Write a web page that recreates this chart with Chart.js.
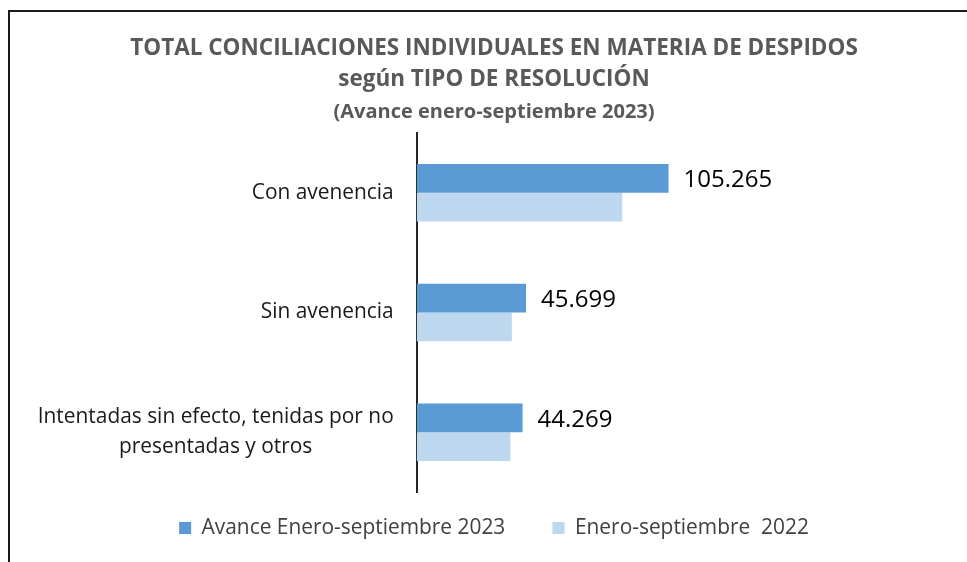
<!DOCTYPE html>
<html>
<head>
<meta charset="utf-8">
<script src="https://cdn.jsdelivr.net/npm/chart.js@4.4.0/dist/chart.umd.min.js"></script>
<style>
  html, body { margin: 0; padding: 0; background: #fff; }
  .frame { position: absolute; left: 8px; top: 10px; width: 1000px; height: 600px; border: 2px solid #1a1a1a; }
  #chart { position: absolute; left: 0; top: 0; }
</style>
</head>
<body>
<div class="frame"></div>
<canvas id="chart" width="967" height="562"></canvas>
<script>
// data
const categories = ['Con avenencia', 'Sin avenencia', ['Intentadas sin efecto, tenidas por no', 'presentadas y otros']];
const seriesNames = ['Avance Enero-septiembre 2023', 'Enero-septiembre  2022'];
const values2023 = [105265, 45699, 44269];
const values2022 = [85900, 39750, 39160];
const xMax = 230000;

const NBSP = '\u00a0';

function fmt(n) {
    return String(n).replace(/\B(?=(\d{3})+(?!\d))/g, '.');
}

// value labels next to the 2023 bars
const valueLabels = {
    id: 'valueLabels',
    afterDatasetsDraw(chart) {
        const ctx = chart.ctx;
        const meta = chart.getDatasetMeta(0);
        ctx.save();
        ctx.font = '24px "Open Sans"';
        ctx.fillStyle = '#000';
        ctx.textAlign = 'left';
        ctx.textBaseline = 'middle';
        meta.data.forEach((bar, i) => {
            ctx.fillText(fmt(values2023[i]), bar.x + 15, bar.y + 2);
        });
        ctx.restore();
    }
};

new Chart(document.getElementById('chart'), {
    type: 'bar',
    data: {
        labels: categories,
        datasets: [
            { label: seriesNames[0], data: values2023, backgroundColor: '#5B9BD5' },
            { label: seriesNames[1], data: values2022, backgroundColor: '#BDD7EE' }
        ]
    },
    options: {
        indexAxis: 'y',
        responsive: false,
        animation: false,
        categoryPercentage: 0.48,
        barPercentage: 1.0,
        layout: { padding: { left: 21, right: 0, top: 0, bottom: 13.6 } },
        scales: {
            x: { display: false, min: 0, max: xMax },
            y: {
                grid: { display: false, drawTicks: false },
                border: { display: true, color: '#262626', width: 2 },
                ticks: {
                    padding: 23,
                    color: '#1a1a1a',
                    font: { family: 'Open Sans', size: 20.9, lineHeight: 1.43 },
                    callback: function (value) {
                        const lbl = this.getLabelForValue(value);
                        if (Array.isArray(lbl)) {
                            return [lbl[0], lbl[1] + NBSP.repeat(15)];
                        }
                        return lbl;
                    }
                },
                afterFit: (scale) => { scale.width = 395.7; }
            }
        },
        plugins: {
            title: {
                display: true,
                text: ['TOTAL CONCILIACIONES INDIVIDUALES EN MATERIA DE DESPIDOS', 'según TIPO DE RESOLUCIÓN'],
                color: '#595959',
                font: { family: 'Open Sans', size: 22.5, weight: 'bold', lineHeight: 1.378 },
                padding: { top: 33.5, bottom: 0 }
            },
            subtitle: {
                display: true,
                text: '(Avance enero-septiembre 2023)',
                color: '#595959',
                font: { family: 'Open Sans', size: 20, weight: 'bold', lineHeight: 1.2 },
                padding: { top: 4.5, bottom: 9 }
            },
            legend: {
                position: 'bottom',
                labels: {
                    boxWidth: 12,
                    boxHeight: 12,
                    padding: 25.5,
                    color: '#404040',
                    font: { family: 'Open Sans', size: 20.9 },
                    generateLabels: (chart) => {
                        const items = Chart.defaults.plugins.legend.labels.generateLabels(chart);
                        items[0].text = items[0].text + NBSP.repeat(4);
                        items.forEach(it => { it.lineWidth = 0; });
                        return items;
                    }
                }
            },
            tooltip: { enabled: false }
        }
    },
    plugins: [valueLabels]
});
</script>
</body>
</html>
